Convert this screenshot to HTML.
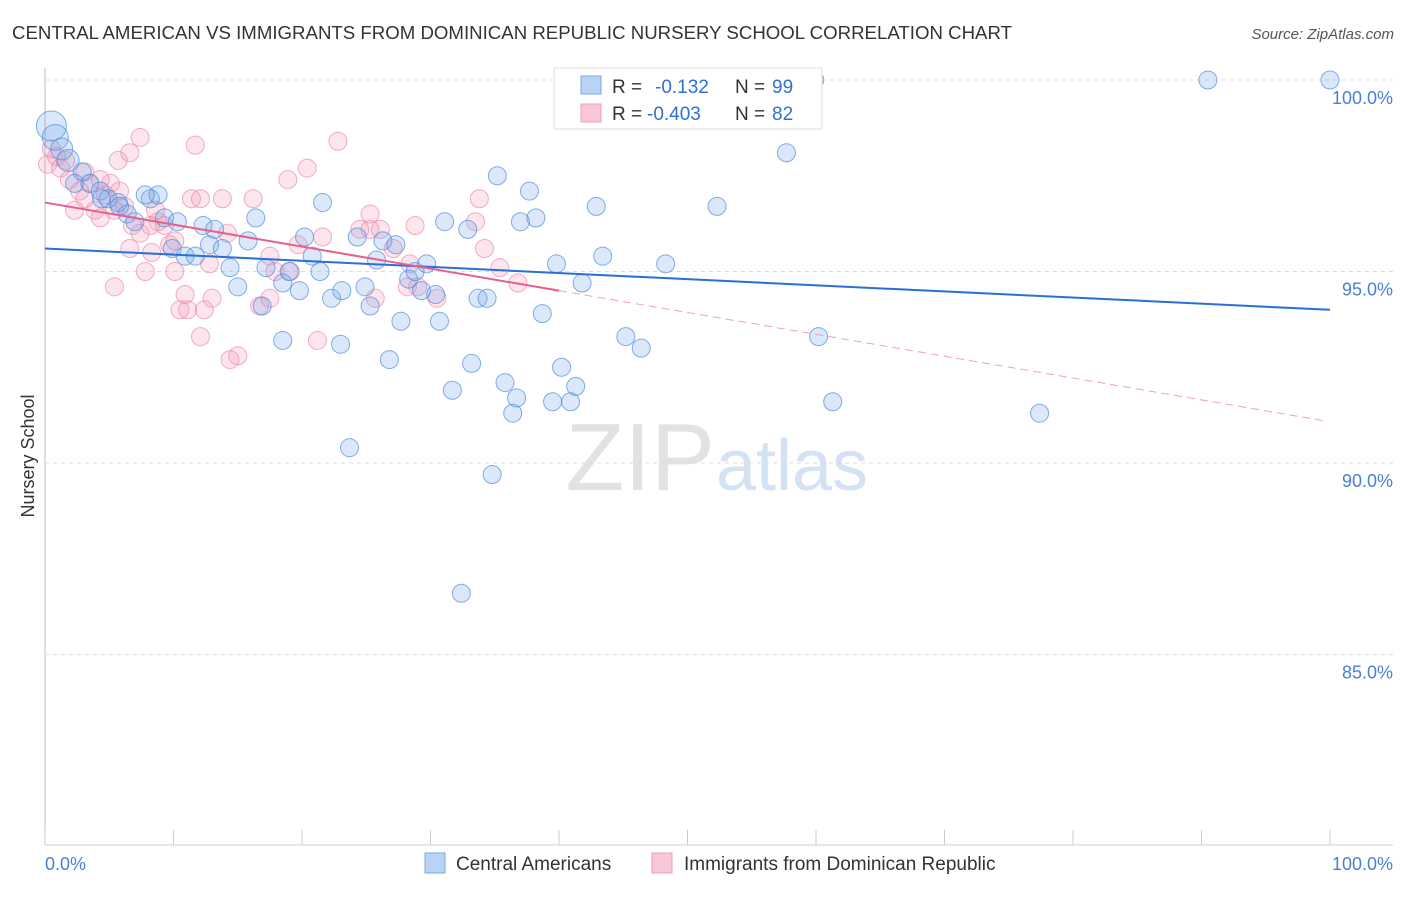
<!DOCTYPE html>
<html><head><meta charset="utf-8"><style>
body{margin:0;background:#fff;font-family:"Liberation Sans",sans-serif}
svg text{font-family:"Liberation Sans",sans-serif}
</style></head><body>
<svg id="c" width="1406" height="892" xmlns="http://www.w3.org/2000/svg">
<text x="12" y="39" font-size="18" fill="#333" textLength="1000" lengthAdjust="spacingAndGlyphs">CENTRAL AMERICAN VS IMMIGRANTS FROM DOMINICAN REPUBLIC NURSERY SCHOOL CORRELATION CHART</text>
<text x="1394" y="39" font-size="15" fill="#555" font-style="italic" text-anchor="end">Source: ZipAtlas.com</text>
<text x="715" y="490" font-size="96" fill="#e2e2e2" text-anchor="end" font-family="Liberation Serif">ZIP</text>
<text x="716" y="490" font-size="72" fill="#d3e2f4">atlas</text>
<text transform="translate(34,456) rotate(-90)" font-size="18" fill="#333" text-anchor="middle">Nursery School</text>
<g id="grid"></g><g id="pts"></g><g id="lines"></g>
<g>
<rect x="554" y="68" width="268" height="61" fill="#fff" stroke="#ddd"/>
<rect x="581" y="76" width="20" height="18" fill="#b9d3f5" stroke="#7aa8e8"/>
<rect x="581" y="104" width="20" height="18" fill="#f9c6d5" stroke="#ef9db6"/>
<text x="612" y="93" font-size="19" fill="#333">R =</text>
<text x="655" y="93" font-size="19" fill="#2f6fd6">-0.132</text>
<text x="735" y="93" font-size="19" fill="#333">N =</text>
<text x="772" y="93" font-size="19" fill="#2f6fd6">99</text>
<text x="612" y="120" font-size="19" fill="#333">R =</text>
<text x="647" y="120" font-size="19" fill="#2f6fd6">-0.403</text>
<text x="735" y="120" font-size="19" fill="#333">N =</text>
<text x="772" y="120" font-size="19" fill="#2f6fd6">82</text>
</g>
<g>
<rect x="425" y="853" width="20" height="20" fill="#b9d3f5" stroke="#7aa8e8"/>
<text x="456" y="870" font-size="19" fill="#333">Central Americans</text>
<rect x="652" y="853" width="20" height="20" fill="#f9c6d5" stroke="#ef9db6"/>
<text x="684" y="870" font-size="19" fill="#333">Immigrants from Dominican Republic</text>
</g>
<text x="45" y="870" font-size="18" fill="#4a7fd6">0.0%</text>
<text x="1393" y="870" font-size="18" fill="#4a7fd6" text-anchor="end">100.0%</text>
</svg>
<script>
const yTicks=[100,95,90,85];
const yTickLabels=["100.0%","95.0%","90.0%","85.0%"];
const xTicks=[0,10,20,30,40,50,60,70,80,90,100];
const blueX=[0.5,0.8,1.3,1.8,2.9,2.3,3.5,4.3,4.9,5.7,6.4,7.0,8.2,8.8,7.8,9.3,10.3,9.9,10.9,11.7,12.3,12.8,13.2,13.8,14.4,15.0,15.8,16.4,17.2,16.9,18.5,19.0,19.8,20.2,20.8,21.4,21.6,22.3,23.1,24.3,24.9,25.3,25.8,26.3,27.3,26.8,27.7,28.3,28.8,29.3,29.7,30.4,30.7,31.1,31.7,32.9,33.2,33.7,34.4,34.8,35.2,35.8,36.4,36.7,37.0,37.7,38.2,38.7,39.5,39.8,40.2,40.9,41.3,41.8,42.9,43.4,45.2,46.4,48.3,52.3,57.7,59.9,60.2,61.3,77.4,90.5,100,32.4,23.7,18.5,23.0,4.4,5.8,49.1,46.7];
const blueY=[98.8,98.5,98.2,97.9,97.6,97.3,97.3,97.1,96.9,96.8,96.5,96.3,96.9,97.0,97.0,96.4,96.3,95.6,95.4,95.4,96.2,95.7,96.1,95.6,95.1,94.6,95.8,96.4,95.1,94.1,94.7,95.0,94.5,95.9,95.4,95.0,96.8,94.3,94.5,95.9,94.6,94.1,95.3,95.8,95.7,92.7,93.7,94.8,95.0,94.5,95.2,94.4,93.7,96.3,91.9,96.1,92.6,94.3,94.3,89.7,97.5,92.1,91.3,91.7,96.3,97.1,96.4,93.9,91.6,95.2,92.5,91.6,92.0,94.7,96.7,95.4,93.3,93.0,95.2,96.7,98.1,100.0,93.3,91.6,91.3,100.0,100.0,86.6,90.4,93.2,93.1,96.9,96.7,100.0,99.2];
const pinkX=[0.2,0.5,0.9,1.2,1.6,1.9,2.3,2.7,3.1,3.5,3.9,4.3,4.7,5.1,5.4,5.8,6.2,5.7,6.6,7.4,6.8,7.4,8.2,8.8,9.3,9.7,10.1,7.8,5.4,10.5,10.9,11.1,11.7,11.4,12.1,12.4,12.8,13.0,13.8,14.2,14.4,15.0,16.2,16.7,17.5,17.9,18.9,19.1,19.7,20.4,21.2,21.6,22.8,24.5,25.3,25.7,26.1,27.1,28.4,28.8,28.2,29.0,30.5,33.5,33.8,34.2,35.4,36.8,6.6,8.3,8.6,3.1,4.3,10.1,17.5,12.1,25.3];
const pinkY=[97.8,98.2,98.0,97.7,97.9,97.4,96.6,97.1,96.9,97.3,96.6,96.4,97.0,97.3,96.6,97.1,96.7,97.9,98.1,98.5,96.2,96.0,96.2,96.3,96.2,95.7,95.0,95.0,94.6,94.0,94.4,94.0,98.3,96.9,96.9,94.0,95.2,94.3,96.9,96.0,92.7,92.8,96.9,94.1,95.4,95.0,97.4,95.0,95.7,97.7,93.2,95.9,98.4,96.1,96.1,94.3,96.1,95.6,95.2,96.2,94.6,94.6,94.3,96.3,96.9,95.6,95.1,94.7,95.6,95.5,96.6,97.6,97.4,95.8,94.3,93.3,96.5];
const blueTrend=[95.6,94.0];
const pinkTrend=[96.8,94.5,91.1];
const pinkTrendX=[0,40,99.6];
const NS="http://www.w3.org/2000/svg";
const sx=v=>45+v*12.85, sy=v=>80+(100-v)*38.3;
function mk(t,a,p){const e=document.createElementNS(NS,t);for(const k in a)e.setAttribute(k,a[k]);p.appendChild(e);return e;}
const grid=document.getElementById('grid');
mk('line',{x1:45,y1:68,x2:45,y2:845,stroke:'#bbb'},grid);
mk('line',{x1:45,y1:845,x2:1393,y2:845,stroke:'#ccc'},grid);
yTicks.forEach((t,i)=>{
 const l=mk('line',{x1:45,y1:sy(t),x2:1393,y2:sy(t),stroke:'#ddd','stroke-dasharray':'4,4'},grid);
 
 
 const tx=mk('text',{x:1393,y:sy(t)+24,'font-size':18,fill:'#4a7fd6','text-anchor':'end'},grid);
 tx.textContent=yTickLabels[i];
 
 
});
xTicks.forEach(t=>{
 const l=mk('line',{x1:sx(t),y1:830,x2:sx(t),y2:845,stroke:'#ccc'},grid);
 
 
});
const pts=document.getElementById('pts');
pinkX.forEach((x,i)=>{
 const c=mk('circle',{cx:sx(x),cy:sy(pinkY[i]),r:9,fill:'rgba(244,150,180,0.25)',stroke:'rgba(236,140,172,0.7)','stroke-width':1},pts);
 
 
});
blueX.forEach((x,i)=>{
 const r=i==0?15:(i==1?13:(i<4?11:9));
 const c=mk('circle',{cx:sx(x),cy:sy(blueY[i]),r:r,fill:'rgba(110,165,235,0.25)',stroke:'rgba(80,140,220,0.7)','stroke-width':1},pts);
 
 
});
const lines=document.getElementById('lines');
const bl=mk('line',{x1:sx(0),y1:sy(blueTrend[0]),x2:sx(100),y2:sy(blueTrend[1]),stroke:'#2a6fd6','stroke-width':2},lines);


const pl=mk('line',{x1:sx(pinkTrendX[0]),y1:sy(pinkTrend[0]),x2:sx(pinkTrendX[1]),y2:sy(pinkTrend[1]),stroke:'#e8608a','stroke-width':2},lines);


const pd=mk('line',{x1:sx(pinkTrendX[1]),y1:sy(pinkTrend[1]),x2:sx(pinkTrendX[2]),y2:sy(pinkTrend[2]),stroke:'#f0a0ba','stroke-width':1,'stroke-dasharray':'8,5'},lines);


</script>
</body></html>
